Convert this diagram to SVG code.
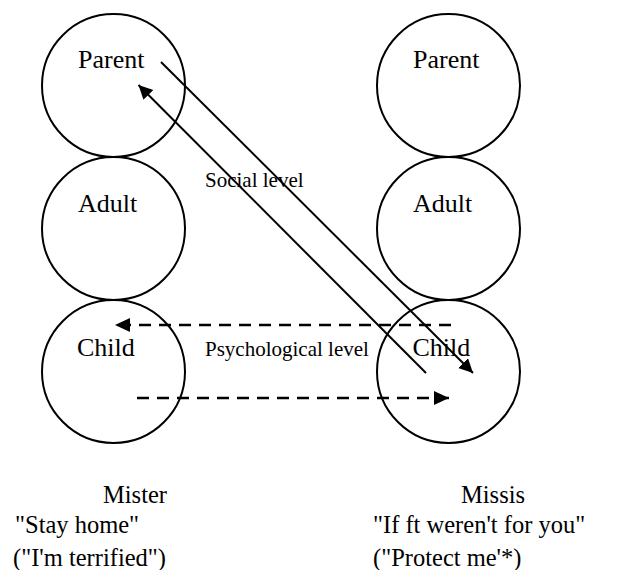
<svg xmlns="http://www.w3.org/2000/svg" width="626" height="570" viewBox="0 0 626 570">
<style>
.c{fill:none;stroke:#000;stroke-width:2}
.t{font-family:"Liberation Serif","Times New Roman",serif;font-size:26px;fill:#000}
.l{font-family:"Liberation Serif","Times New Roman",serif;font-size:21px;fill:#000}
.b{font-family:"Liberation Serif","Times New Roman",serif;font-size:24.5px;fill:#000}
.s{stroke:#000;stroke-width:2;fill:none}
.d{stroke:#000;stroke-width:2.5;fill:none;stroke-dasharray:12 8}
</style>
<defs>
<marker id="ah" markerUnits="userSpaceOnUse" markerWidth="15" markerHeight="15" refX="14" refY="7" orient="auto">
<path d="M0,0 L14,7 L0,14 z" fill="#000"/>
</marker>
<marker id="dh" markerUnits="userSpaceOnUse" markerWidth="16" markerHeight="16" refX="15" refY="7" orient="auto">
<path d="M0,0 L15,7 L0,14 z" fill="#000"/>
</marker>
</defs>
<rect width="626" height="570" fill="#fff"/>
<g id="mister-parent"><circle class="c" cx="113.5" cy="85.5" r="71.5"/><text class="t" x="78" y="68">Parent</text></g>
<g id="mister-adult"><circle class="c" cx="113.5" cy="228.5" r="71.5"/><text class="t" x="78" y="212">Adult</text></g>
<g id="mister-child"><circle class="c" cx="113.5" cy="371.5" r="71.5"/><text class="t" x="77" y="356">Child</text></g>
<g id="missis-parent"><circle class="c" cx="448.5" cy="85.5" r="71.5"/><text class="t" x="413" y="68">Parent</text></g>
<g id="missis-adult"><circle class="c" cx="448.5" cy="228.5" r="71.5"/><text class="t" x="413" y="212">Adult</text></g>
<g id="missis-child"><circle class="c" cx="448.5" cy="371.5" r="71.5"/><text class="t" x="412.5" y="356">Child</text></g>
<g id="connectors">
<line class="s" x1="161" y1="62" x2="473" y2="373" marker-end="url(#ah)"/>
<line class="s" x1="426" y1="373" x2="138.5" y2="85" marker-end="url(#ah)"/>
<line class="d" x1="451" y1="325" x2="115" y2="325" marker-end="url(#dh)"/>
<line class="d" x1="137" y1="398" x2="449" y2="398" marker-end="url(#dh)"/>
</g>
<g id="labels">
<text class="l" x="205" y="187">Social level</text>
<text class="l" x="205" y="356">Psychological level</text>
</g>
<g id="mister-caption">
<text class="b" x="103" y="503">Mister</text>
<text class="b" x="15" y="533">"Stay home"</text>
<text class="b" x="13" y="566">("I'm terrified")</text>
</g>
<g id="missis-caption">
<text class="b" x="461" y="503">Missis</text>
<text class="b" x="373" y="533">"If ft weren't for you"</text>
<text class="b" x="373" y="566">("Protect me'*)</text>
</g>
</svg>
